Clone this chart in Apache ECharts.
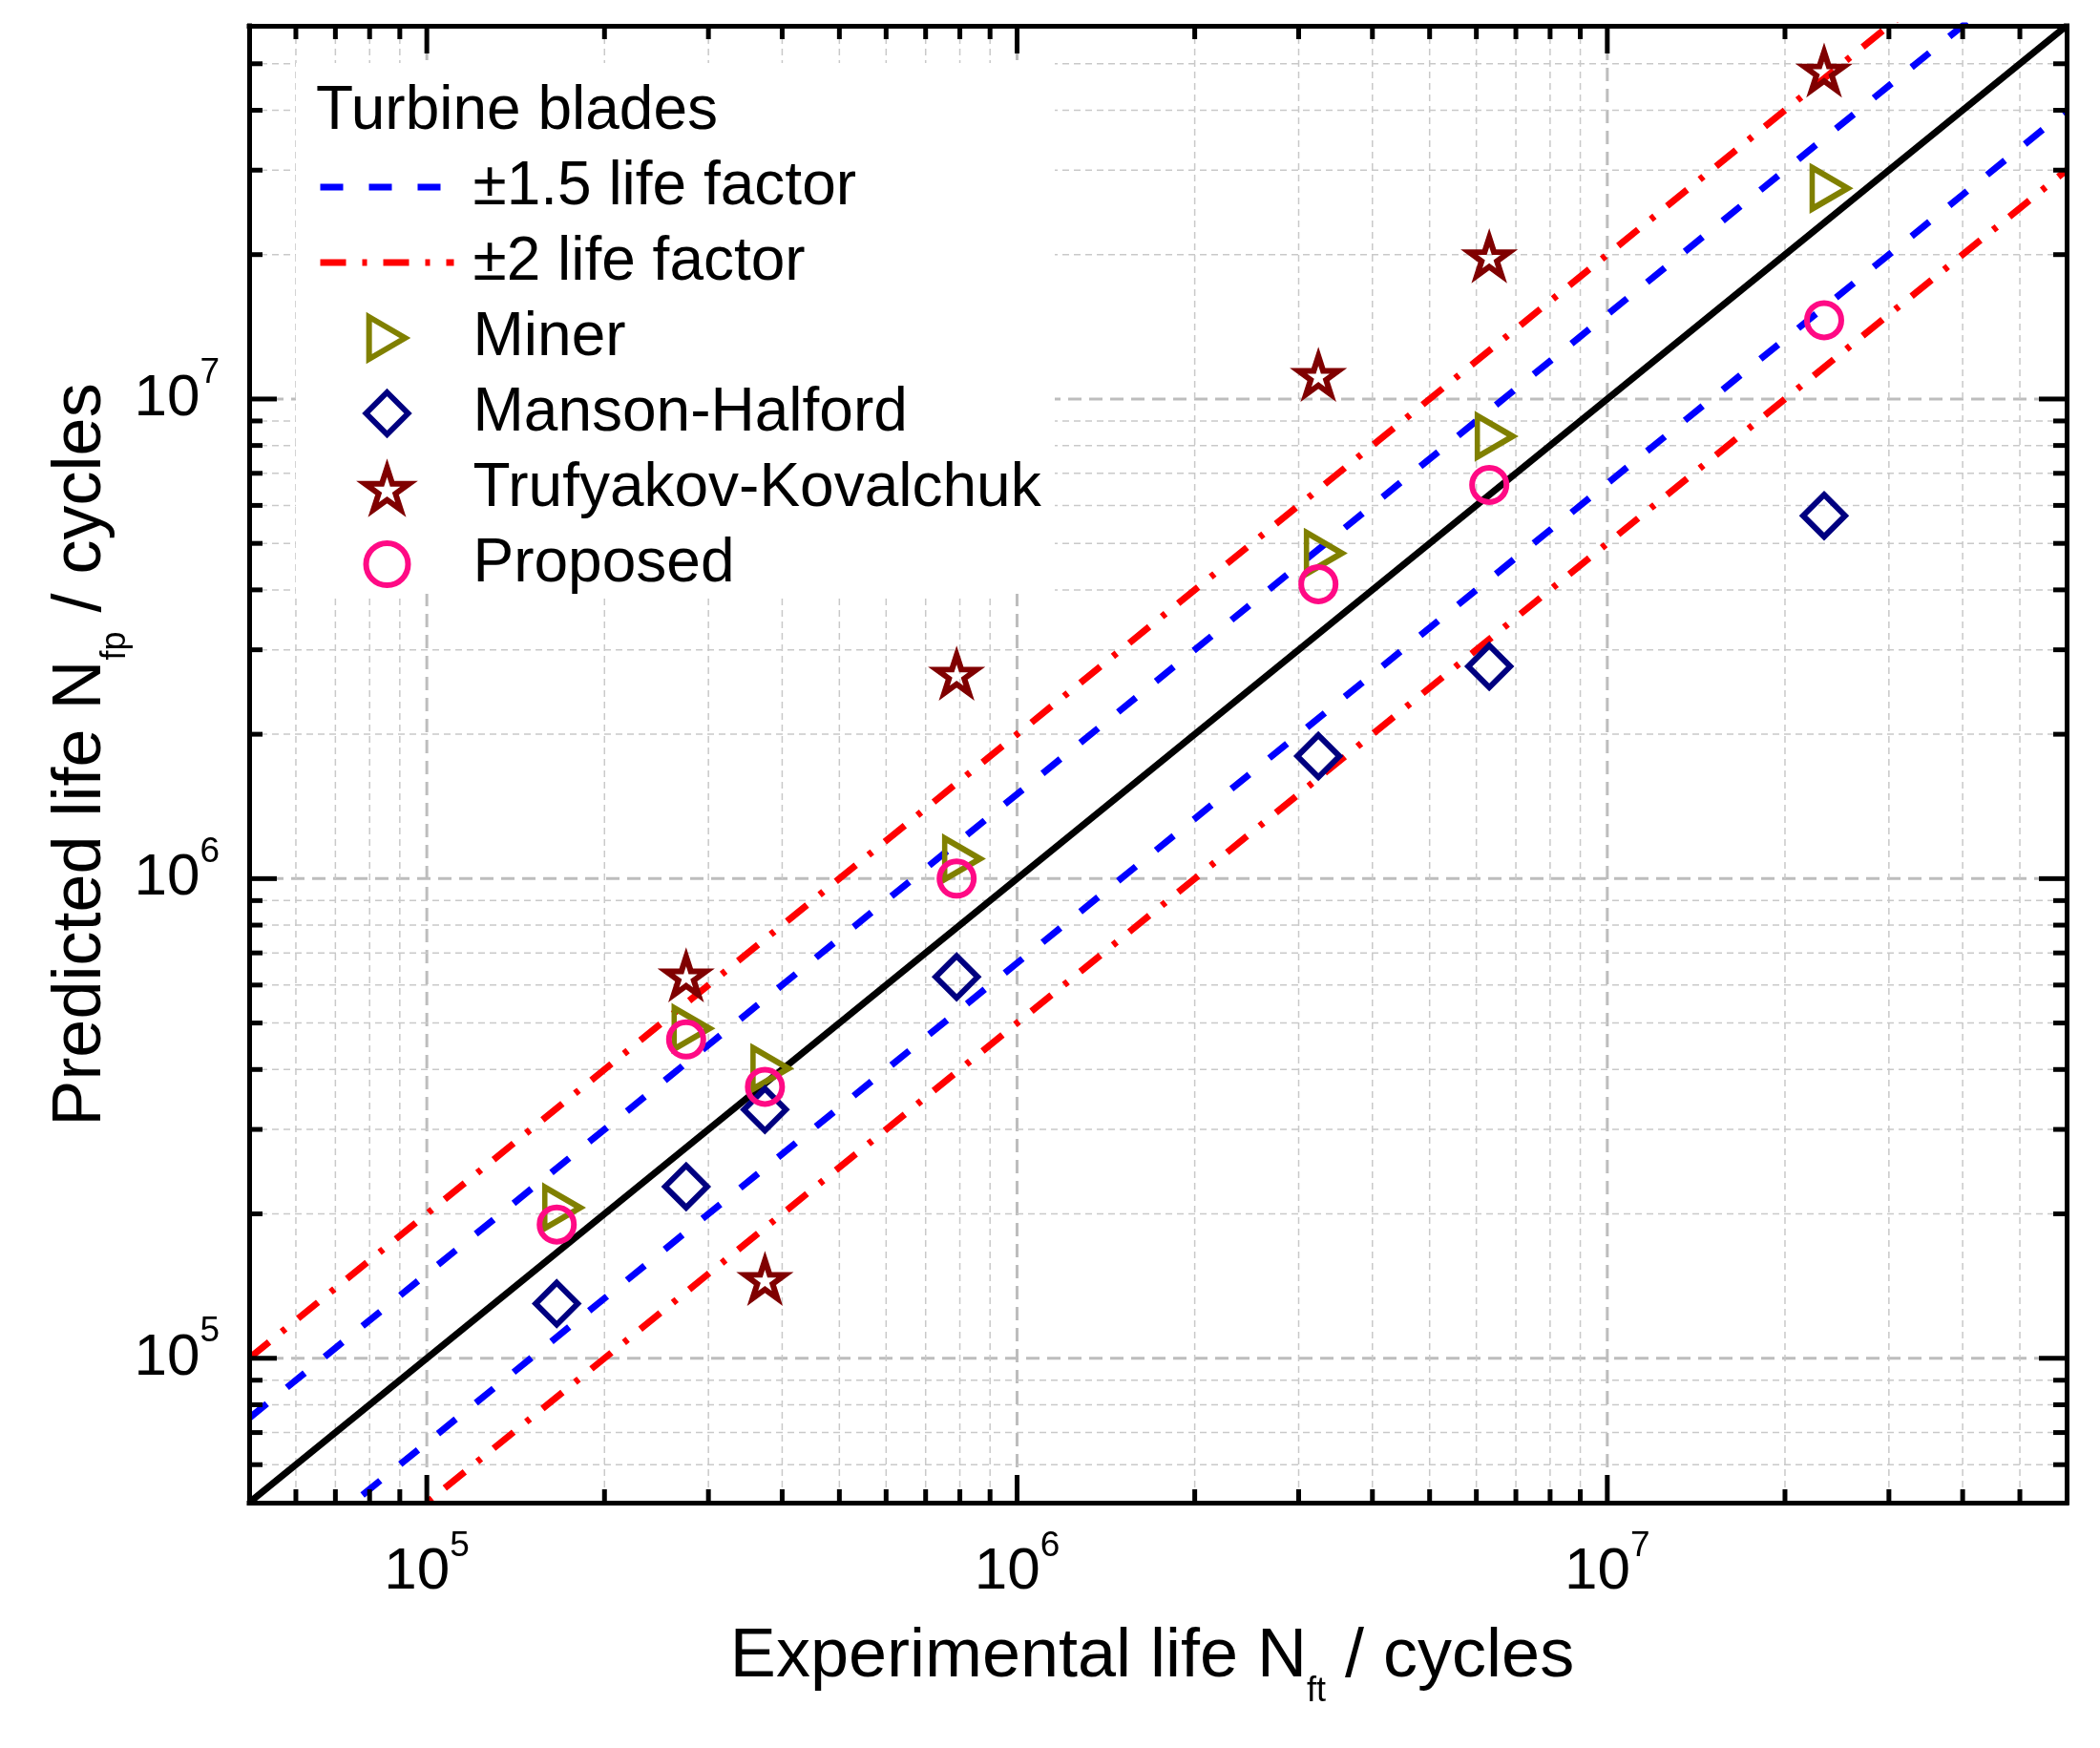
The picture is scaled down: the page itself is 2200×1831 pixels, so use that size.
<!DOCTYPE html>
<html>
<head>
<meta charset="utf-8">
<title>Predicted vs experimental life</title>
<script src="https://cdn.jsdelivr.net/npm/echarts@6/dist/echarts.min.js"></script>
<style>
  html, body { margin: 0; padding: 0; background: #fff; }
  #main { width: 2200px; height: 1831px; }
</style>
</head>
<body>
<div id="main"></div>
<script>
// experimental life of each blade (x), shared by every model
var expLife = [1.66e5, 2.75e5, 3.74e5, 7.9e5, 3.24e6, 6.31e6, 2.33e7];
// predicted lives (y) per model
var minerLife = [2.06e5, 4.87e5, 4.02e5, 1.10e6, 4.77e6, 8.36e6, 2.75e7];
var mansonLife = [1.30e5, 2.28e5, 3.30e5, 6.24e5, 1.80e6, 2.77e6, 5.71e6];
var trufLife = [null, 6.27e5, 1.46e5, 2.67e6, 1.12e7, 1.98e7, 4.83e7];
var proposedLife = [1.90e5, 4.62e5, 3.68e5, 1.00e6, 4.11e6, 6.62e6, 1.46e7];

// reference lines (end points over the axis range)
var diagLine = [[5e4, 5e4], [6e7, 6e7]];
var f15Upper = [[5e4, 7.5e4], [6e7, 9e7]];
var f15Lower = [[5e4, 3.3333e4], [6e7, 4e7]];
var f2Upper = [[5e4, 1e5], [6e7, 1.2e8]];
var f2Lower = [[5e4, 2.5e4], [6e7, 3e7]];

// axis range and tick positions (same on both axes)
var axisMin = 5e4, axisMax = 6e7;
var majorTicks = [1e5, 1e6, 1e7];
var minorTicks = [6e4, 7e4, 8e4, 9e4,
  2e5, 3e5, 4e5, 5e5, 6e5, 7e5, 8e5, 9e5,
  2e6, 3e6, 4e6, 5e6, 6e6, 7e6, 8e6, 9e6,
  2e7, 3e7, 4e7, 5e7];

var FONT = "'Liberation Sans', Arial, sans-serif";
var starPath = 'path://M50 0 L61.2 34.5 L97.6 34.5 L68.2 55.9 L79.4 90.5 L50 69.1 L20.6 90.5 L31.8 55.9 L2.4 34.5 L38.8 34.5 Z';
var triPath = 'path://M0 0 L36 21 L0 42 Z';
var diamondPath = 'path://M22 0 L44 22 L22 44 L0 22 Z';

var DASH15 = [24, 27];
var DASH2 = [27, 17, 5, 17];

function pairs(ys) {
  var out = [];
  for (var i = 0; i < expLife.length; i++) {
    if (ys[i] != null) out.push([expLife[i], ys[i]]);
  }
  return out;
}

var tickData = majorTicks.map(function (v) { return [v, v, 1]; })
  .concat(minorTicks.map(function (v) { return [v, v, 0]; }));

function powerLabel(value) {
  var e = Math.round(Math.log(value) / Math.LN10);
  if (Math.abs(value - Math.pow(10, e)) / value > 1e-6) return '';
  return '{b|10}{s|' + e + '}';
}

var labelRich = {
  b: { fontSize: 62, lineHeight: 92, fontFamily: FONT, color: '#000' },
  s: { fontSize: 37, lineHeight: 37, verticalAlign: 'top', fontFamily: FONT, color: '#000' }
};
var titleRich = {
  m: { fontSize: 72, lineHeight: 80, fontFamily: FONT, color: '#000' },
  sub: { fontSize: 36, lineHeight: 36, padding: [72, 0, 0, 0], fontFamily: FONT, color: '#000' }
};

var frameLine = { show: true, onZero: false, lineStyle: { color: '#000', width: 5, cap: 'square' } };

function renderGrid(params, api) {
  var cs = params.coordSys;
  var v = api.value(0);
  var major = api.value(2) === 1;
  var p = api.coord([v, v]);
  function st() {
    return { stroke: major ? '#bdbdbd' : '#c9c9c9', lineWidth: major ? 3 : 1.5, lineDash: major ? [14, 8] : [7, 5] };
  }
  return {
    type: 'group',
    children: [
      { type: 'line', shape: { x1: p[0], y1: cs.y, x2: p[0], y2: cs.y + cs.height }, style: st() },
      { type: 'line', shape: { x1: cs.x, y1: p[1], x2: cs.x + cs.width, y2: p[1] }, style: st() }
    ]
  };
}

function renderTicks(params, api) {
  var cs = params.coordSys;
  var v = api.value(0);
  var len = api.value(2) === 1 ? 29 : 14;
  var p = api.coord([v, v]);
  var l = cs.x, r = cs.x + cs.width, t = cs.y, b = cs.y + cs.height;
  function st() { return { stroke: '#000', lineWidth: 5 }; }
  return {
    type: 'group',
    children: [
      { type: 'line', shape: { x1: p[0], y1: b, x2: p[0], y2: b - len }, style: st() },
      { type: 'line', shape: { x1: p[0], y1: t, x2: p[0], y2: t + len }, style: st() },
      { type: 'line', shape: { x1: l, y1: p[1], x2: l + len, y2: p[1] }, style: st() },
      { type: 'line', shape: { x1: r, y1: p[1], x2: r - len, y2: p[1] }, style: st() }
    ]
  };
}

var chart = echarts.init(document.getElementById('main'), null, { renderer: 'canvas' });

var hiddenDot = { opacity: 0, color: 'transparent', borderWidth: 0 };

var option = {
  backgroundColor: '#fff',
  animation: false,
  textStyle: { fontFamily: FONT },
  grid: { left: 261, right: 35, top: 27, bottom: 257, containLabel: false, outerBoundsMode: 'none' },
  xAxis: [
    {
      type: 'log', min: axisMin, max: axisMax, position: 'bottom', z: 10,
      axisLine: frameLine, axisTick: { show: false }, splitLine: { show: false },
      axisLabel: { margin: 27, formatter: powerLabel, rich: labelRich },
      name: '{m|Experimental life N}{sub|ft}{m| / cycles}',
      nameLocation: 'middle', nameGap: 122, nameMoveOverlap: false,
      nameTextStyle: { fontSize: 72, fontFamily: FONT, color: '#000', padding: [0, 12, 0, 0], rich: titleRich }
    },
    {
      type: 'log', min: axisMin, max: axisMax, position: 'top', z: 10,
      axisLine: frameLine, axisTick: { show: false }, splitLine: { show: false }, axisLabel: { show: false }
    }
  ],
  yAxis: [
    {
      type: 'log', min: axisMin, max: axisMax, position: 'left', z: 10,
      axisLine: frameLine, axisTick: { show: false }, splitLine: { show: false },
      axisLabel: { margin: 31, formatter: powerLabel, rich: labelRich },
      name: '{m|Predicted life N}{sub|fp}{m| / cycles}',
      nameLocation: 'middle', nameGap: 136, nameMoveOverlap: false,
      nameTextStyle: { fontSize: 72, fontFamily: FONT, color: '#000', padding: [0, 0, 0, 20], rich: titleRich }
    },
    {
      type: 'log', min: axisMin, max: axisMax, position: 'right', z: 10,
      axisLine: frameLine, axisTick: { show: false }, splitLine: { show: false }, axisLabel: { show: false }
    }
  ],
  legend: {
    orient: 'vertical', left: 332, top: 164, padding: 0, itemGap: 15,
    itemWidth: 140, itemHeight: 44, selectedMode: false, z: 6,
    textStyle: { fontSize: 64, color: '#000', fontFamily: FONT, padding: [0, 0, 0, 15] },
    itemStyle: { borderWidth: 6, opacity: 1 },
    data: [
      { name: '±1.5 life factor', itemStyle: hiddenDot, lineStyle: { width: 7, type: DASH15, color: '#0000ff' } },
      { name: '±2 life factor', itemStyle: hiddenDot, lineStyle: { width: 7, type: DASH2, color: '#ff0000' } },
      { name: 'Miner' },
      { name: 'Manson-Halford' },
      { name: 'Trufyakov-Kovalchuk' },
      { name: 'Proposed' }
    ]
  },
  graphic: [
    { type: 'rect', shape: { x: 310, y: 66, width: 795, height: 556 }, style: { fill: '#fff' }, z: 3, silent: true },
    { type: 'text', x: 331, y: 117, z: 7, silent: true,
      style: { text: 'Turbine blades', fontSize: 64, fontFamily: FONT, fill: '#000', verticalAlign: 'middle' } }
  ],
  series: [
    { type: 'custom', name: 'grid', renderItem: renderGrid, data: tickData, encode: { x: 0, y: 1 }, z: 1, silent: true },
    { type: 'line', name: '±1.5 life factor', data: f15Upper, symbol: 'none', showSymbol: false, z: 4, silent: true,
      itemStyle: { color: '#0000ff' }, lineStyle: { color: '#0000ff', width: 7, type: DASH15 } },
    { type: 'line', name: '±1.5 life factor', data: f15Lower, symbol: 'none', showSymbol: false, z: 4, silent: true,
      itemStyle: { color: '#0000ff' }, lineStyle: { color: '#0000ff', width: 7, type: DASH15 } },
    { type: 'line', name: '±2 life factor', data: f2Upper, symbol: 'none', showSymbol: false, z: 4, silent: true,
      itemStyle: { color: '#ff0000' }, lineStyle: { color: '#ff0000', width: 7, type: DASH2 } },
    { type: 'line', name: '±2 life factor', data: f2Lower, symbol: 'none', showSymbol: false, z: 4, silent: true,
      itemStyle: { color: '#ff0000' }, lineStyle: { color: '#ff0000', width: 7, type: DASH2 } },
    { type: 'line', name: 'Exact', data: diagLine, symbol: 'none', showSymbol: false, z: 4, silent: true,
      lineStyle: { color: '#000', width: 7 } },
    { type: 'scatter', name: 'Miner', data: pairs(minerLife), z: 5,
      symbol: triPath, symbolSize: [37, 43], symbolOffset: [6, 0],
      itemStyle: { color: 'transparent', borderColor: '#808000', borderWidth: 6, opacity: 1 } },
    { type: 'scatter', name: 'Manson-Halford', data: pairs(mansonLife), z: 5,
      symbol: diamondPath, symbolSize: [44, 44],
      itemStyle: { color: 'transparent', borderColor: '#000080', borderWidth: 6, opacity: 1 } },
    { type: 'scatter', name: 'Trufyakov-Kovalchuk', data: pairs(trufLife), z: 5,
      symbol: starPath, symbolSize: [42, 40],
      itemStyle: { color: 'transparent', borderColor: '#800000', borderWidth: 6, opacity: 1 } },
    { type: 'scatter', name: 'Proposed', data: pairs(proposedLife), z: 5,
      symbol: 'circle', symbolSize: 36,
      itemStyle: { color: 'transparent', borderColor: '#ff0a85', borderWidth: 6, opacity: 1 } },
    { type: 'custom', name: 'ticks', renderItem: renderTicks, data: tickData, encode: { x: 0, y: 1 }, z: 10, silent: true }
  ]
};

chart.setOption(option);
</script>
</body>
</html>
